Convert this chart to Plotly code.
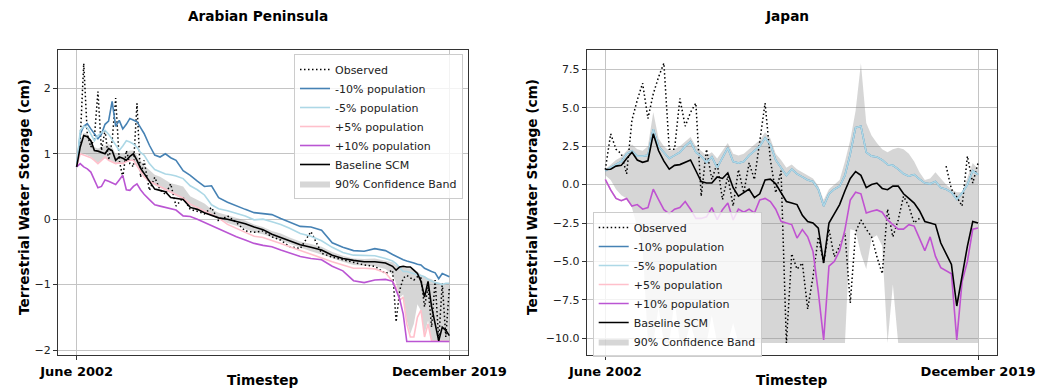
import plotly.graph_objects as go

# ---------------- Arabian Peninsula (left) ----------------
TL = [0, 2, 4, 6, 8, 10, 12, 14, 16, 18,
      20, 22, 24, 26, 28, 30, 32, 34, 36, 38,
      41, 44, 47, 50, 53, 56, 60, 64, 68, 72,
      76, 80, 85, 90, 95, 100, 105, 110, 115, 120,
      126, 132, 138, 144, 150, 156, 162, 168, 174, 178,
      180, 182, 184, 186, 188, 190, 192, 194, 196, 198,
      200, 202, 204, 206, 208, 210]

L_obs = [0.80, 1.20, 2.38, 1.30, 1.10, 1.25, 1.95, 1.05, 1.36, 0.90,
         1.20, 1.85, 0.90, 0.64, 1.05, 0.85, 0.80, 1.77, 0.64, 0.90,
         0.44, 0.64, 0.45, 0.38, 0.54, 0.20, 0.33, 0.15, 0.12, 0.08,
         0.18, -0.03, 0.05, -0.05, -0.18, -0.20, -0.18, -0.27, -0.32, -0.42,
         -0.45, -0.19, -0.52, -0.58, -0.62, -0.66, -0.70, -0.72, -0.83, -0.78,
         -1.57, -1.09, -0.90, -0.86, -0.90, -0.93, -0.88, -0.90, -1.34, -1.04,
         -1.65, -0.93, -1.86, -0.98, -1.80, -1.04]

L_m10 = [0.80, 1.30, 1.42, 1.46, 1.38, 1.30, 1.23, 1.30, 1.45, 1.50,
         1.80, 1.42, 1.51, 1.38, 1.45, 1.54, 1.52, 1.49, 1.40, 1.31,
         1.13, 0.98, 0.95, 1.00, 0.94, 0.90, 0.74, 0.67, 0.58, 0.50,
         0.51, 0.33, 0.26, 0.20, 0.15, 0.10, 0.09, 0.07, 0.01, -0.04,
         -0.11, -0.12, -0.17, -0.36, -0.43, -0.48, -0.49, -0.45, -0.48, -0.54,
         -0.57, -0.60, -0.62, -0.64, -0.65, -0.67, -0.69, -0.70, -0.75, -0.78,
         -0.80, -0.82, -0.91, -0.83, -0.86, -0.88]

L_m5 = [0.80, 1.35, 1.42, 1.40, 1.30, 1.20, 1.28, 1.32, 1.36, 1.30,
        1.22, 1.15, 1.05, 1.12, 1.20, 1.18, 1.15, 1.10, 1.02, 0.98,
        0.85, 0.76, 0.72, 0.69, 0.68, 0.66, 0.62, 0.51, 0.45, 0.37,
        0.22, 0.16, 0.13, 0.09, 0.05, -0.01, 0.00, -0.04, -0.08, -0.14,
        -0.22, -0.26, -0.33, -0.43, -0.51, -0.55, -0.55, -0.56, -0.60, -0.64,
        -0.68, -0.74, -0.80, -0.80, -0.82, -0.84, -0.85, -0.86, -0.88, -0.92,
        -0.95, -0.97, -0.98, -1.00, -0.98, -0.98]

L_p5 = [0.80, 1.00, 0.98, 0.96, 0.94, 0.90, 0.85, 0.90, 0.95, 0.90,
        0.87, 0.85, 0.86, 0.85, 0.88, 0.90, 0.90, 0.82, 0.74, 0.65,
        0.58, 0.54, 0.50, 0.45, 0.41, 0.37, 0.32, 0.23, 0.18, 0.12,
        0.07, 0.02, -0.08, -0.14, -0.20, -0.26, -0.28, -0.32, -0.37, -0.42,
        -0.48, -0.54, -0.60, -0.65, -0.70, -0.75, -0.75, -0.76, -0.82, -0.95,
        -1.04, -1.24, -1.19, -1.60, -1.80, -1.80, -1.50, -1.39, -1.80, -1.60,
        -1.86, -1.86, -1.87, -1.87, -1.87, -1.87]

L_p10 = [0.80, 0.85, 0.80, 0.77, 0.72, 0.60, 0.48, 0.50, 0.60, 0.58,
         0.56, 0.53, 0.60, 0.67, 0.45, 0.44, 0.50, 0.54, 0.45, 0.38,
         0.30, 0.22, 0.20, 0.18, 0.17, 0.14, 0.05, 0.04, 0.00, -0.05,
         -0.10, -0.15, -0.22, -0.27, -0.32, -0.37, -0.40, -0.42, -0.47, -0.52,
         -0.57, -0.60, -0.62, -0.72, -0.79, -0.94, -0.97, -0.93, -0.92, -0.95,
         -1.10, -1.22, -1.45, -1.87, -1.87, -1.87, -1.87, -1.87, -1.87, -1.87,
         -1.87, -1.87, -1.87, -1.87, -1.87, -1.87]

L_base = [0.80, 1.10, 1.28, 1.26, 1.20, 1.05, 1.04, 1.02, 1.00, 1.08,
          1.05, 0.90, 0.95, 0.93, 0.90, 0.96, 1.00, 0.90, 0.78, 0.70,
          0.58, 0.46, 0.44, 0.42, 0.33, 0.32, 0.30, 0.18, 0.15, 0.10,
          0.06, 0.02, 0.00, -0.03, -0.07, -0.12, -0.16, -0.23, -0.28, -0.33,
          -0.39, -0.43, -0.47, -0.55, -0.60, -0.63, -0.65, -0.65, -0.67, -0.72,
          -0.78, -0.73, -0.72, -0.73, -0.73, -0.78, -0.83, -0.95, -1.19, -0.95,
          -1.34, -1.60, -1.86, -1.65, -1.70, -1.78]

L_lo = [0.80, 1.00, 1.00, 0.98, 0.95, 0.90, 0.86, 0.90, 0.93, 0.92,
        0.88, 0.85, 0.87, 0.86, 0.87, 0.90, 0.90, 0.82, 0.74, 0.66,
        0.58, 0.52, 0.48, 0.44, 0.39, 0.35, 0.30, 0.20, 0.16, 0.11,
        0.07, 0.02, -0.06, -0.10, -0.15, -0.20, -0.23, -0.28, -0.33, -0.38,
        -0.44, -0.49, -0.54, -0.60, -0.65, -0.70, -0.71, -0.72, -0.76, -0.85,
        -0.98, -1.20, -1.15, -1.55, -1.75, -1.60, -1.30, -1.40, -1.75, -1.55,
        -1.85, -1.87, -1.87, -1.87, -1.87, -1.87]

L_hi = [0.80, 1.20, 1.32, 1.30, 1.22, 1.10, 1.08, 1.10, 1.12, 1.15,
        1.10, 1.00, 1.00, 1.00, 1.02, 1.05, 1.05, 0.97, 0.90, 0.82,
        0.75, 0.68, 0.65, 0.60, 0.55, 0.53, 0.50, 0.35, 0.30, 0.24,
        0.15, 0.10, 0.06, 0.02, -0.02, -0.08, -0.12, -0.18, -0.22, -0.28,
        -0.34, -0.38, -0.42, -0.50, -0.56, -0.60, -0.61, -0.60, -0.63, -0.66,
        -0.70, -0.72, -0.72, -0.75, -0.75, -0.78, -0.80, -0.85, -0.88, -0.90,
        -0.92, -0.95, -0.98, -0.98, -1.00, -0.98]

# ---------------- Japan (right) ----------------
TR = [0, 3, 6, 9, 12, 15, 18, 21, 24, 27,
      30, 33, 36, 39, 42, 45, 48, 51, 54, 57,
      60, 63, 66, 69, 72, 75, 78, 81, 84, 87,
      90, 93, 96, 99, 102, 105, 108, 111, 114, 117,
      120, 123, 126, 129, 132, 135, 138, 141, 144, 147,
      150, 153, 156, 159, 162, 165, 168, 171, 174, 177,
      180, 183, 186, 189, 192, 195, 198, 201, 204, 207,
      210]

R_obs = [0.98, 3.30, 2.30, 2.00, 0.70, 4.20, 5.50, 6.60, 4.30, 5.90,
         7.00, 7.90, 2.30, 2.30, 5.60, 3.80, 4.70, 5.30, -0.76, 2.30,
         0.33, 1.40, -0.98, 0.54, -1.40, 0.98, -0.54, 1.41, 0.33, 2.90,
         5.30, 1.60, -0.54, 0.90, -10.30, -4.50, -5.50, -5.10, -8.10, -6.00,
         -3.40, -5.10, -2.90, -4.70, -4.00, -3.15, -7.70, -3.10, -2.30, -2.90,
         -3.40, -4.70, -5.80, -1.60, -3.40, -2.30, -0.76, -1.41, -2.50, -2.20,
         None, None, None, None, 1.20, -0.30, -0.80, -1.40, 1.85, 0.10,
         1.40]

R_m5 = [0.90, 1.10, 1.30, 1.50, 2.00, 2.20, 1.85, 1.85, 1.90, 3.60,
        2.50, 2.07, 1.70, 1.90, 2.10, 2.50, 2.80, 2.10, 1.85, 1.45,
        1.80, 1.10, 1.70, 2.39, 1.50, 1.40, 1.50, 1.90, 2.20, 2.50,
        3.04, 2.60, 1.60, 1.10, 0.60, 1.00, 0.70, 0.50, 0.30, 0.20,
        -0.30, -1.40, -0.60, -0.30, -0.11, 0.60, 2.00, 3.70, 3.80, 2.10,
        1.85, 1.80, 1.60, 1.30, 1.25, 1.00, 0.70, 0.55, 0.65, 0.35,
        0.10, 0.05, 0.20, -0.20, -0.30, -0.50, -0.95, -0.55, 0.00, 0.90,
        0.65]
R_m10 = list(R_m5)

R_p10 = [0.33, -0.35, -0.90, -1.05, -0.90, -1.40, -1.30, -1.60, -1.50, -0.30,
         -0.98, -1.63, -1.90, -1.60, -1.50, -1.10, -1.60, -2.20, -2.20, -2.10,
         -1.50, -2.28, -1.63, -1.20, -2.30, -1.60, -1.80, -1.60, -1.85, -1.00,
         -0.90, -1.10, -1.60, -2.39, -2.50, -2.60, -3.48, -2.93, -3.40, -4.35,
         -7.00, -10.10, -5.30, -5.00, -4.30, -2.93, -1.00, -0.50, -0.60, -1.85,
         -1.74, -1.65, -1.80, -2.30, -2.60, -2.90, -2.90, -2.61, -2.70, -3.50,
         -4.30, -3.40, -4.67, -5.40, -5.60, -5.80, -10.10, -6.30, -5.00, -2.90,
         -2.83]
R_p5 = list(R_p10)

R_base = [0.98, 1.00, 1.20, 1.25, 1.70, 2.10, 1.60, 1.45, 1.55, 3.30,
          2.20, 1.52, 1.00, 1.25, 1.30, 1.45, 1.60, 0.90, 0.20, 0.10,
          0.10, 0.50, 0.40, 0.76, -0.20, -0.75, -0.55, -0.30, -0.85, -0.60,
          0.30, 0.35, 0.05, -0.50, -1.10, -1.20, -1.30, -2.00, -2.40, -2.50,
          -2.83, -5.10, -2.50, -1.90, -1.30, -0.40, 0.40, 0.85, 0.60, -0.20,
          0.00, 0.10, -0.25, -0.33, -0.10, -0.10, -0.60, -0.90, -1.20, -1.70,
          -2.40, -2.50, -2.60, -3.80, -4.50, -5.20, -7.90, -5.90, -4.00, -2.40,
          -2.50]

R_lo = [0.60, 0.30, -0.30, -0.70, -0.90, -1.50, -2.80, -4.00, -10.30, -10.30,
        -8.00, -10.30, -10.30, -7.50, -10.30, -10.30, -9.00, -10.30, -10.30, -10.30,
        -8.50, -10.30, -10.30, -10.30, -9.00, -10.30, -10.30, -10.30, -10.30, -10.30,
        -10.30, -10.30, -10.30, -10.30, -10.30, -10.30, -10.30, -10.30, -10.30, -10.30,
        -10.30, -10.30, -10.30, -10.30, -10.30, -10.30, -2.90, -3.00, -4.50, -5.50,
        -3.50, -3.30, -4.00, -10.30, -6.50, -10.30, -10.30, -10.30, -10.30, -10.30,
        -10.30, -10.30, -10.30, -10.30, -10.30, -10.30, -10.30, -10.30, -10.30, -10.30,
        -10.30]

R_hi = [1.00, 1.30, 1.60, 1.80, 2.20, 2.60, 2.30, 2.20, 2.50, 4.70,
        3.00, 2.50, 2.20, 2.30, 2.50, 2.80, 3.10, 2.50, 2.20, 1.90,
        2.10, 1.70, 2.20, 2.70, 2.00, 1.90, 2.00, 2.30, 2.60, 2.90,
        3.40, 3.00, 2.00, 1.60, 1.10, 1.30, 1.00, 0.80, 0.60, 0.40,
        -0.10, -1.00, -0.30, 0.00, 0.30, 1.50, 2.90, 4.80, 7.90, 4.00,
        3.20, 2.70, 2.30, 2.10, 2.30, 2.40, 2.30, 2.00, 1.50, 0.80,
        0.30, 0.40, 0.80, 0.40, 0.00, -0.30, -0.50, -0.50, 0.50, 1.40,
        1.00]

X_TICKS = [0, 210]
X_LABELS = ["<b>June 2002</b>", "<b>December 2019</b>"]
L_YTICKS = [-2, -1, 0, 1, 2]
L_YLABELS = ["\u22122", "\u22121", "0", "1", "2"]
R_YTICKS = [-10, -7.5, -5, -2.5, 0, 2.5, 5, 7.5]
R_YLABELS = ["\u221210.0", "\u22127.5", "\u22125.0", "\u22122.5", "0.0", "2.5", "5.0", "7.5"]

NAMES = ["Observed", "-10% population", "-5% population", "+5% population",
         "+10% population", "Baseline SCM", "90% Confidence Band"]
COLORS = ["black", "#4682B4", "#ADD8E6", "#FFC0CB", "#BA55D3", "black"]
BAND_COLOR = "rgba(140,140,140,0.36)"

FONT = "DejaVu Sans"
W, H = 1055, 391

fig = go.Figure()


def add_panel(t, obs, series, lo, hi, xa, ya, legend):
    fig.add_trace(go.Scatter(x=t, y=lo, mode="lines", line=dict(width=0),
                             showlegend=False, hoverinfo="skip",
                             xaxis=xa, yaxis=ya, legend=legend))
    fig.add_trace(go.Scatter(x=t, y=hi, mode="lines", line=dict(width=0),
                             fill="tonexty", fillcolor=BAND_COLOR,
                             name=NAMES[6], legendrank=1007,
                             xaxis=xa, yaxis=ya, legend=legend))
    fig.add_trace(go.Scatter(x=t, y=obs, mode="lines", name=NAMES[0],
                             line=dict(color=COLORS[0], width=1.5, dash="1.5px,2.5px"),
                             legendrank=1000, connectgaps=False,
                             xaxis=xa, yaxis=ya, legend=legend))
    for i, s in enumerate(series, start=1):
        fig.add_trace(go.Scatter(x=t, y=s, mode="lines", name=NAMES[i],
                                 line=dict(color=COLORS[i], width=1.6),
                                 legendrank=1000 + i,
                                 xaxis=xa, yaxis=ya, legend=legend))


add_panel(TL, L_obs, [L_m10, L_m5, L_p5, L_p10, L_base], L_lo, L_hi, "x", "y", "legend")
add_panel(TR, R_obs, [R_m10, R_m5, R_p5, R_p10, R_base], R_lo, R_hi, "x2", "y2", "legend2")

L_X0, L_X1 = 58, 468
R_X0, R_X1 = 586.7, 996.7
Y_TOP, Y_BOT = 50, 355

common_x = dict(range=[-10.5, 220.5], tickvals=X_TICKS, ticktext=X_LABELS,
                tickfont=dict(family=FONT, size=13, color="black"),
                showgrid=True, gridcolor="#c4c4c4", gridwidth=1,
                showline=True, linecolor="#333333", linewidth=1.2, mirror=True,
                ticks="outside", ticklen=4, tickcolor="#333333", zeroline=False,
                automargin=False, fixedrange=True)
common_y = dict(tickfont=dict(family=FONT, size=11, color="#222222"),
                showgrid=True, gridcolor="#c4c4c4", gridwidth=1,
                showline=True, linecolor="#333333", linewidth=1.2, mirror=True,
                ticks="outside", ticklen=4, tickcolor="#333333", zeroline=False,
                automargin=False, fixedrange=True)

ydom = [1 - Y_BOT / H, 1 - Y_TOP / H]

legend_common = dict(font=dict(family=FONT, size=11, color="#222222"),
                     bgcolor="rgba(255,255,255,0.8)", bordercolor="#cccccc",
                     borderwidth=1, itemwidth=30, tracegroupgap=0,
                     traceorder="normal", yanchor="top")

fig.update_layout(
    width=W, height=H, margin=dict(l=0, r=0, t=0, b=0, autoexpand=False),
    paper_bgcolor="white", plot_bgcolor="white",
    font=dict(family=FONT),
    xaxis=dict(domain=[L_X0 / W, L_X1 / W], anchor="y", **common_x),
    yaxis=dict(domain=ydom, anchor="x", range=[-2.076, 2.586],
               tickvals=L_YTICKS, ticktext=L_YLABELS, **common_y),
    xaxis2=dict(domain=[R_X0 / W, R_X1 / W], anchor="y2", **common_x),
    yaxis2=dict(domain=ydom, anchor="x2", range=[-11.087, 8.756],
                tickvals=R_YTICKS, ticktext=R_YLABELS, **common_y),
    legend=dict(x=463 / W, xanchor="right", y=1 - 54 / H, **legend_common),
    legend2=dict(x=592.7 / W, xanchor="left", y=1 - 212 / H, **legend_common),
    showlegend=True,
)

ann = []
for x0, x1, title in [(L_X0, L_X1, "Arabian Peninsula"), (R_X0, R_X1, "Japan")]:
    cx = (x0 + x1) / 2 / W
    ann.append(dict(text="<b>%s</b>" % title, x=cx - 5 / W, y=1 - 16 / H, xref="paper", yref="paper",
                    xanchor="center", yanchor="middle", showarrow=False,
                    font=dict(family=FONT, size=13.7, color="black")))
    ann.append(dict(text="<b>Timestep</b>", x=cx, y=1 / H, xref="paper", yref="paper",
                    xanchor="center", yanchor="bottom", showarrow=False,
                    font=dict(family=FONT, size=13.7, color="black")))
for cx_px in [24, 532]:
    ann.append(dict(text="<b>Terrestrial Water Storage (cm)</b>", x=cx_px / W, y=1 - 197 / H,
                    xref="paper", yref="paper", xanchor="center", yanchor="middle",
                    textangle=-90, showarrow=False,
                    font=dict(family=FONT, size=13.7, color="black")))
fig.update_layout(annotations=ann)

fig.write_html("out.html", config={"displayModeBar": False})
